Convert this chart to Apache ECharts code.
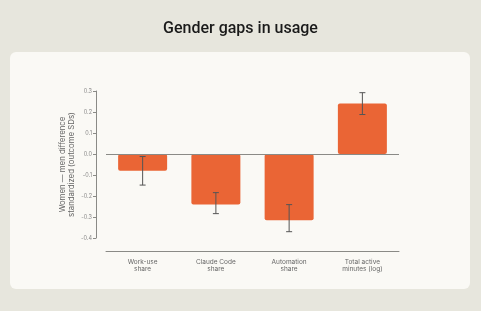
<!DOCTYPE html>
<html>
<head>
<meta charset="utf-8">
<script src="https://cdn.jsdelivr.net/npm/echarts@6/dist/echarts.min.js"></script>
<style>
  html, body { margin: 0; padding: 0; background: #e7e6dd; }
  #card { position: absolute; left: 10px; top: 52px; width: 460px; height: 237px; background: #faf9f5; border-radius: 6px; }
  #chart { position: absolute; left: 0; top: 0; width: 481px; height: 311px; }
</style>
</head>
<body>
<div id="card"></div>
<div id="chart"></div>
<script>
// data
var categories = ['Work-use\nshare', 'Claude Code\nshare', 'Automation\nshare', 'Total active\nminutes (log)']
var values = [-0.08, -0.24, -0.315, 0.24]
var errLow = [-0.148, -0.284, -0.37, 0.188]
var errHigh = [-0.012, -0.184, -0.241, 0.292]

var chart = echarts.init(document.getElementById('chart'))

var errData = []
for (var i = 0; i < values.length; i++) {
    errData.push([i, errLow[i], errHigh[i]])
}

var option = {
    backgroundColor: 'transparent',
    animation: false,
    title: {
        text: 'Gender gaps in usage',
        left: 'center',
        top: 16,
        textStyle: { fontFamily: 'Roboto', fontSize: 16, fontWeight: 500, color: '#1a1a1a' }
    },
    // grid spans 0.3 .. -0.4, x axis line pushed down below it
    grid: { left: 106, top: 91, width: 293, height: 147 },
    xAxis: {
        type: 'category',
        data: categories,
        offset: 13,
        axisLine: { onZero: false, lineStyle: { color: '#8a8a86', width: 1 } },
        axisTick: { show: false },
        axisLabel: { fontFamily: 'Inter', fontSize: 6.5, color: '#666', lineHeight: 7.5, margin: 7 }
    },
    yAxis: {
        type: 'value',
        min: -0.4,
        max: 0.3,
        interval: 0.1,
        offset: 10,
        name: 'Women — men difference\nstandardized (outcome SDs)',
        nameLocation: 'middle',
        nameGap: 20,
        nameMoveOverlap: false,
        nameTextStyle: { fontFamily: 'Inter', fontSize: 7.8, color: '#666', lineHeight: 9 },
        axisLine: { show: true, lineStyle: { color: '#8a8a86', width: 1 } },
        axisTick: { show: true, length: 3, lineStyle: { color: '#8a8a86' } },
        splitLine: { show: false },
        axisLabel: {
            fontFamily: 'Inter', fontSize: 5.5, color: '#888', margin: 4,
            formatter: function (v) { return v.toFixed(1) }
        }
    },
    series: [
        {
            type: 'bar',
            data: values,
            barWidth: 49,
            itemStyle: { color: '#ea6535', borderRadius: 2 },
            markLine: {
                silent: true,
                symbol: 'none',
                label: { show: false },
                lineStyle: { color: '#8a8a86', width: 1, type: 'solid' },
                data: [{ yAxis: 0 }]
            }
        },
        {
            type: 'custom',
            data: errData,
            z: 10,
            renderItem: function (params, api) {
                var lo = api.coord([api.value(0), api.value(1)])
                var hi = api.coord([api.value(0), api.value(2)])
                var cap = 3
                var st = { stroke: '#555', lineWidth: 1 }
                return {
                    type: 'group',
                    children: [
                        { type: 'line', shape: { x1: lo[0], y1: lo[1], x2: hi[0], y2: hi[1] }, style: st },
                        { type: 'line', shape: { x1: lo[0] - cap, y1: lo[1], x2: lo[0] + cap, y2: lo[1] }, style: st },
                        { type: 'line', shape: { x1: hi[0] - cap, y1: hi[1], x2: hi[0] + cap, y2: hi[1] }, style: st }
                    ]
                }
            }
        }
    ]
}

chart.setOption(option)
</script>
</body>
</html>
